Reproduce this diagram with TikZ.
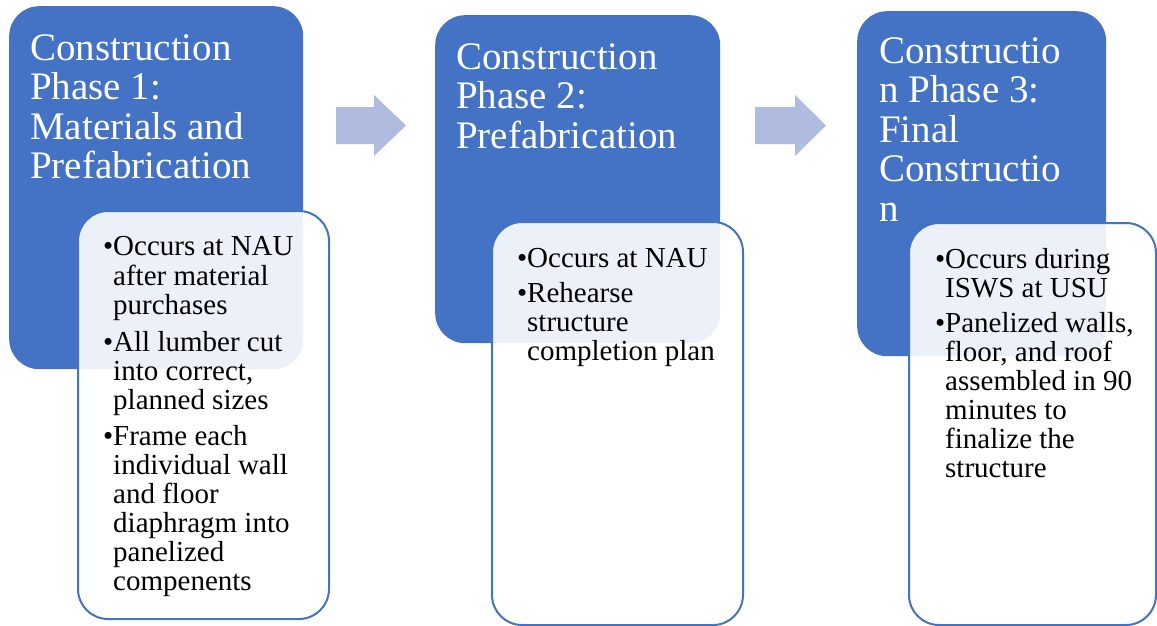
\documentclass[tikz,border=0pt]{standalone}
\usepackage{fontspec}
\setmainfont{Liberation Serif}
\definecolor{phaseblue}{HTML}{4472C4}
\definecolor{arrowblue}{HTML}{AFBBDF}
\tikzset{
  phasebox/.style={draw=none, fill=phaseblue, rounded corners=30pt, anchor=north west, inner sep=0pt},
  detailbox/.style={draw=phaseblue, line width=2pt, fill=white, fill opacity=0.9, rounded corners=30pt, anchor=north west, inner sep=0pt},
  titletext/.style={text=white, anchor=north west, inner sep=0pt, align=left, font=\fontsize{39}{39.5}\selectfont},
  bodytext/.style={text=black, anchor=north west, inner sep=0pt, align=left, font=\fontsize{29}{29}\selectfont},
  blockarrow/.style={fill=arrowblue, draw=none}
}
\newcommand{\itm}{\llap{•}}
\begin{document}
\begin{tikzpicture}[x=1pt,y=-1pt]
\useasboundingbox (0,0) rectangle (1157,626);
% phase boxes
\node[phasebox, minimum width=294pt, minimum height=363pt] (p1) at (9,6) {};
\node[phasebox, minimum width=285pt, minimum height=328pt] (p2) at (435,15) {};
\node[phasebox, minimum width=249pt, minimum height=345pt] (p3) at (857,11) {};
% titles
\node[titletext] (t1) at (30,32.35) {\strut Construction\\Phase 1:\\Materials and\\Prefabrication};
\node[titletext] (t2) at (456,41.35) {\strut Construction\\Phase 2:\\Prefabrication};
\node[titletext] (t3) at (879,35.35) {\strut Constructio\\n Phase 3:\\Final\\Constructio\\n};
% detail boxes
\node[detailbox, minimum width=251pt, minimum height=408pt] (d1) at (77,210) {};
\node[detailbox, minimum width=251pt, minimum height=403pt] (d2) at (491,221) {};
\node[detailbox, minimum width=247pt, minimum height=402pt] (d3) at (908,222) {};
% body texts
\node[bodytext] (b1) at (113,234.7) {\strut\itm Occurs at NAU\\after material\\purchases\\[8pt]\itm All lumber cut\\into correct,\\planned sizes\\[7pt]\itm Frame each\\individual wall\\and floor\\diaphragm into\\panelized\\compenents};
\node[bodytext] (b2) at (527,246.7) {\strut\itm Occurs at NAU\\[6pt]\itm Rehearse\\structure\\completion plan};
\node[bodytext] (b3) at (945,247.7) {\strut\itm Occurs during\\ISWS at USU\\[6pt]\itm Panelized walls,\\floor, and roof\\assembled in 90\\minutes to\\finalize the\\structure};
% block arrows
\coordinate (a1s) at (336,125.5);
\coordinate (a2s) at (755,125.5);
\fill[blockarrow] (a1s) ++(0,-18.5) -- ++(38,0) -- ++(0,-12) -- ++(32,30.5) -- ++(-32,30.5) -- ++(0,-12) -- ++(-38,0) -- cycle;
\fill[blockarrow] (a2s) ++(0,-18.5) -- ++(40,0) -- ++(0,-12) -- ++(31,30.5) -- ++(-31,30.5) -- ++(0,-12) -- ++(-40,0) -- cycle;
\end{tikzpicture}
\end{document}
